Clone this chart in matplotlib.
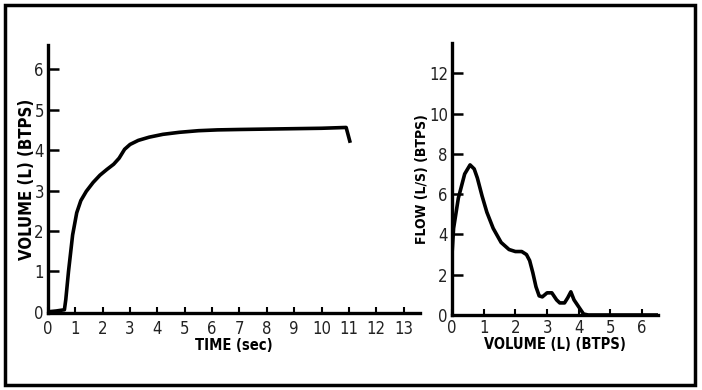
import matplotlib
matplotlib.use("Agg")
import matplotlib.pyplot as plt
from matplotlib.patches import Rectangle

plt.rcParams['font.family'] = ['DejaVu Sans']
plt.rcParams['font.stretch'] = 'condensed'

# volume-time curve
time_s = [0.0, 0.3, 0.6, 0.65, 0.75, 0.9, 1.05, 1.2, 1.4, 1.65, 1.9, 2.15, 2.4, 2.6,
          2.8, 3.0, 3.3, 3.7, 4.2, 4.8, 5.5, 6.2, 7.0, 8.0, 9.0, 10.0, 10.9, 11.05]
volume_l = [0.0, 0.02, 0.05, 0.3, 1.0, 1.9, 2.45, 2.75, 2.98, 3.2, 3.38, 3.52, 3.65, 3.8,
            4.02, 4.14, 4.24, 4.32, 4.39, 4.44, 4.48, 4.5, 4.51, 4.52, 4.53, 4.54, 4.56, 4.18]

# flow-volume curve
fv_volume = [0.0, 0.0, 0.05, 0.2, 0.4, 0.57, 0.7, 0.8, 0.95, 1.1, 1.3, 1.55, 1.8, 2.0,
             2.2, 2.35, 2.45, 2.55, 2.65, 2.75, 2.85, 3.0, 3.15, 3.3, 3.4, 3.55, 3.65,
             3.75, 3.85, 4.0, 4.15, 4.3, 6.5]
fv_flow = [0.0, 3.0, 4.3, 5.8, 7.0, 7.45, 7.25, 6.8, 5.9, 5.1, 4.3, 3.6, 3.25, 3.15,
           3.15, 3.0, 2.7, 2.1, 1.4, 0.95, 0.9, 1.1, 1.1, 0.75, 0.6, 0.6, 0.85,
           1.15, 0.75, 0.4, 0.05, 0.0, 0.0]

left_xticks = list(range(0, 14))
left_yticks = list(range(0, 7))
right_xticks = list(range(0, 7))
right_yticks = list(range(0, 13, 2))

fig = plt.figure(figsize=(7.02, 3.90), dpi=100)
fig.patches.append(Rectangle((4.5 / 702, 5 / 390), 690 / 702, 380 / 390,
                             transform=fig.transFigure, fill=False,
                             edgecolor='black', linewidth=2.5))


def style(ax, xpad):
    for s in ['top', 'right']:
        ax.spines[s].set_visible(False)
    for s in ['left', 'bottom']:
        ax.spines[s].set_linewidth(2.4)
    ax.tick_params(axis='y', direction='in', length=8, width=1.8, labelsize=12,
                   pad=3, labelcolor='#222222')
    ax.tick_params(axis='x', direction='in', length=4, width=1.5, labelsize=12,
                   pad=xpad, labelcolor='#222222')


ax1 = fig.add_axes([48 / 702, 1 - 313 / 390, 372 / 702, 268 / 390])
ax1.plot(time_s, volume_l, color='black', linewidth=2.6, solid_capstyle='butt')
ax1.set_xlim(0, 13.6)
ax1.set_ylim(-0.03, 6.6)
ax1.set_xticks(left_xticks)
ax1.set_yticks(left_yticks)
style(ax1, 5)
ax1.set_xlabel('TIME (sec)', fontsize=10.5, fontweight='bold', labelpad=0)
ax1.set_ylabel('VOLUME (L) (BTPS)', fontsize=12, fontweight='bold', labelpad=-1)

ax2 = fig.add_axes([452 / 702, 1 - 315 / 390, 206 / 702, 272 / 390])
ax2.plot(fv_volume, fv_flow, color='black', linewidth=2.6)
ax2.set_xlim(0, 6.5)
ax2.set_ylim(0, 13.5)
ax2.set_xticks(right_xticks)
ax2.set_yticks(right_yticks)
style(ax2, 3)
ax2.set_xlabel('VOLUME (L) (BTPS)', fontsize=10.5, fontweight='bold', labelpad=0)
ax2.set_ylabel('FLOW (L/S) (BTPS)', fontsize=10, fontweight='bold', labelpad=0)

fig.savefig('out.png', dpi=100)
